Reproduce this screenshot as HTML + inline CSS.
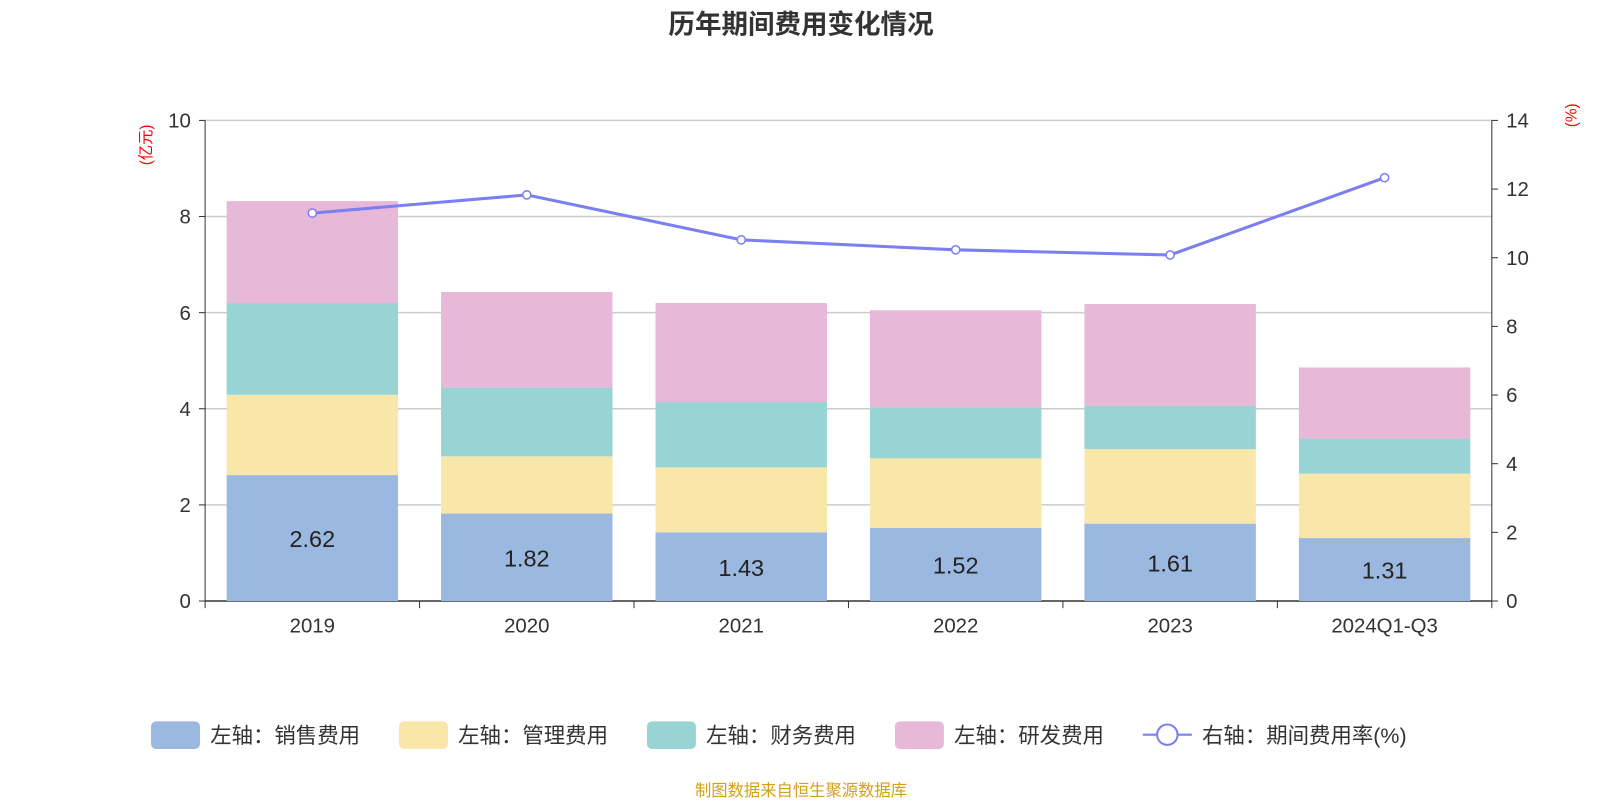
<!DOCTYPE html>
<html><head><meta charset="utf-8">
<style>
body{margin:0;background:#fff;width:1600px;height:800px;overflow:hidden;font-family:"Liberation Sans","Noto Sans CJK SC",sans-serif;}
svg text{font-family:"Liberation Sans","Noto Sans CJK SC",sans-serif;}
</style></head>
<body>
<svg width="1600" height="800" xmlns="http://www.w3.org/2000/svg"><g id="c" transform="scale(1.0204)"></g></svg>
<script>
const categories=["2019","2020","2021","2022","2023","2024Q1-Q3"];
const sales=[2.62,1.82,1.43,1.52,1.61,1.31];
const mgmt=[1.67,1.19,1.35,1.45,1.55,1.34];
const fin=[1.91,1.43,1.36,1.06,0.90,0.73];
const rd=[2.12,1.99,2.06,2.02,2.12,1.48];
const rate=[11.30,11.83,10.52,10.23,10.08,12.33];
const leftTicks=[0,2,4,6,8,10];
const rightTicks=[0,2,4,6,8,10,12,14];

const NS="http://www.w3.org/2000/svg";
const svg=document.getElementById('c');
const X0=201,X1=1462,Y0=589,Y1=118;
const bandW=(X1-X0)/categories.length;
const xc=i=>X0+bandW*(i+0.5);
const yL=v=>Y0-(v/10)*(Y0-Y1);
const yR=v=>Y0-(v/14)*(Y0-Y1);
function el(t,a,p){const e=document.createElementNS(NS,t);for(const k in a)e.setAttribute(k,a[k]);(p||svg).appendChild(e);return e;}

let t=el('text',{x:785,y:33,'text-anchor':'middle','font-size':26,'font-weight':'bold',fill:'#333'});t.textContent='历年期间费用变化情况';



leftTicks.forEach(v=>{
  const g=el('line',{x1:X0,x2:X1,y1:yL(v),y2:yL(v),stroke:v===0?'#333':'#ccc','stroke-width':1.5});
  
  
  el('line',{x1:X0-6,x2:X0,y1:yL(v),y2:yL(v),stroke:'#333'});
  const tx=el('text',{x:X0-14,y:yL(v)+7,'text-anchor':'end','font-size':20,fill:'#333'});tx.textContent=v;
  
  
});
rightTicks.forEach(v=>{
  el('line',{x1:X1,x2:X1+6,y1:yR(v),y2:yR(v),stroke:'#333'});
  const tx=el('text',{x:X1+14,y:yR(v)+7,'font-size':20,fill:'#333'});tx.textContent=v;
  
  
});
el('line',{x1:X0,x2:X0,y1:Y1,y2:Y0,stroke:'#333'});
el('line',{x1:X1,x2:X1,y1:Y1,y2:Y0,stroke:'#333'});
for(let i=0;i<=categories.length;i++)el('line',{x1:X0+bandW*i,x2:X0+bandW*i,y1:Y0,y2:Y0+7,stroke:'#333'});

let yt=el('text',{x:148,y:142,'font-size':15,fill:'red','text-anchor':'middle',transform:'rotate(-90 148 142)'});yt.textContent='(亿元)';


let yt2=el('text',{x:1545,y:113,'font-size':15,fill:'red','text-anchor':'middle',transform:'rotate(-90 1545 113)'});yt2.textContent='(%)';



const series=[[sales,'#9bb8e1','sales'],[mgmt,'#f8e7a9','mgmt'],[fin,'#98d4d4','finance'],[rd,'#e7b8d8','rd']];
const bw=168;
categories.forEach((c,i)=>{
  let base=0;
  series.forEach(([arr,col,nm])=>{
    const v=arr[i];
    const r=el('rect',{x:xc(i)-bw/2,y:yL(base+v),width:bw,height:yL(base)-yL(base+v),fill:col});
    
    
    base+=v;
  });
  const lb=el('text',{x:xc(i),y:(yL(0)+yL(sales[i]))/2+9,'text-anchor':'middle','font-size':23,fill:'#222'});lb.textContent=sales[i].toFixed(2);
  
  
  const xl=el('text',{x:xc(i),y:620,'text-anchor':'middle','font-size':20,fill:'#333'});xl.textContent=c;
  
  
});

const pts=rate.map((v,i)=>xc(i)+','+yR(v)).join(' ');
const pl=el('polyline',{points:pts,fill:'none',stroke:'#7b7ff0','stroke-width':3});


rate.forEach((v,i)=>{
  const p=el('circle',{cx:xc(i),cy:yR(v),r:4,fill:'#fff',stroke:'#7b7ff0','stroke-width':1.5});
  
  
});

const leg=[['左轴：销售费用','#9bb8e1',148],['左轴：管理费用','#f8e7a9',391],['左轴：财务费用','#98d4d4',634],['左轴：研发费用','#e7b8d8',877]];
leg.forEach(([txt,col,x])=>{
  const g=el('g',{});
  
  
  el('rect',{x:x,y:707,width:48,height:27,rx:5,fill:col},g);
  const tx=el('text',{x:x+58,y:728,'font-size':21,fill:'#333'},g);tx.textContent=txt;
});
const g=el('g',{});


el('line',{x1:1120,x2:1168,y1:720,y2:720,stroke:'#7b7ff0','stroke-width':2},g);
el('circle',{cx:1144,cy:720,r:10,fill:'#fff',stroke:'#7b7ff0','stroke-width':2},g);
const lt=el('text',{x:1178,y:728,'font-size':21,fill:'#333'},g);lt.textContent='右轴：期间费用率(%)';

const src=el('text',{x:785,y:780,'text-anchor':'middle','font-size':16,fill:'#d4a017'});src.textContent='制图数据来自恒生聚源数据库';


</script>
</body></html>
